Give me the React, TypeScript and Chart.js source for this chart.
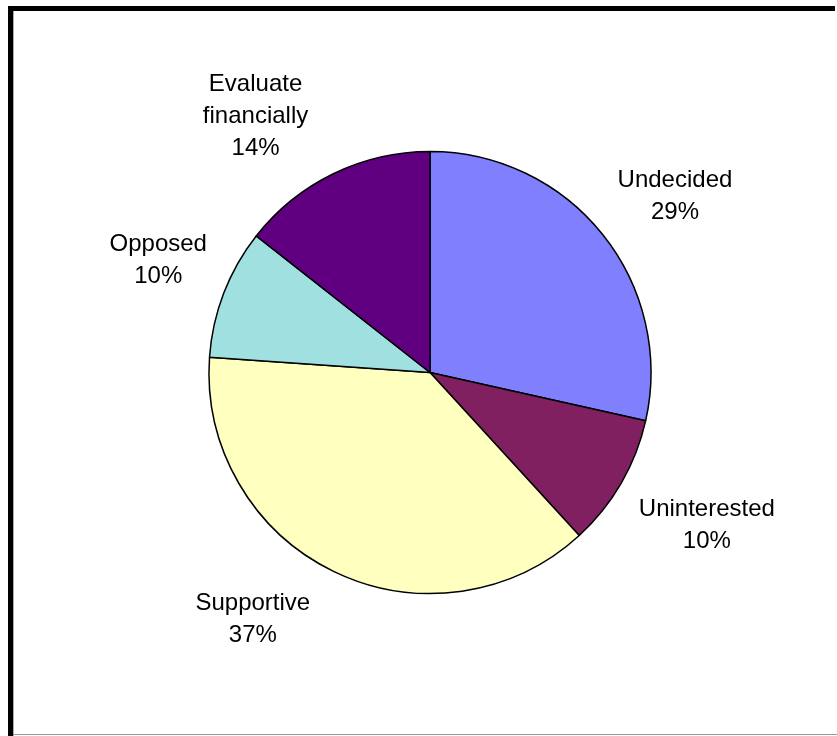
import React, { useEffect, useRef } from "react";
import { Chart, registerables } from "chart.js";

Chart.register(...registerables);

const categories = ["Undecided", "Uninterested", "Supportive", "Opposed", "Evaluate financially"];
const labelLines = [["Undecided"], ["Uninterested"], ["Supportive"], ["Opposed"], ["Evaluate", "financially"]];
const values = [28.5, 9.7, 37.9, 9.5, 14.4];
const percentLabels = ["29%", "10%", "37%", "10%", "14%"];
const colors = ["#8080FF", "#802060", "#FFFFC0", "#A0E0E0", "#600080"];
// label placement nudges (px) relative to the radial anchor
const labelNudges = [
  [8.5, 13.4],
  [14.6, 1],
  [-45.6, -26],
  [11, -3],
  [-42, 16],
];

const labelPlugin = {
  id: "outsideLabels",
  afterDatasetsDraw(chart: any) {
    const ctx = chart.ctx;
    const meta = chart.getDatasetMeta(0);
    ctx.save();
    ctx.font = '24px "Liberation Sans", Arial, sans-serif';
    ctx.fillStyle = "#000";
    ctx.textAlign = "center";
    ctx.textBaseline = "middle";
    const lineH = 32;
    meta.data.forEach((arc: any, i: number) => {
      const p = arc.getProps(["x", "y", "startAngle", "endAngle", "outerRadius"], true);
      const mid = (p.startAngle + p.endAngle) / 2;
      const d = p.outerRadius + 82;
      const cx = p.x + Math.cos(mid) * d + labelNudges[i][0];
      const cy = p.y + Math.sin(mid) * d + labelNudges[i][1];
      const lines = [...labelLines[i], percentLabels[i]];
      const top = cy - ((lines.length - 1) * lineH) / 2;
      lines.forEach((t, k) => ctx.fillText(t, cx, top + k * lineH));
    });
    ctx.restore();
  },
};

export default function App() {
  const ref = useRef<HTMLCanvasElement>(null);
  useEffect(() => {
    if (!ref.current) return;
    const chart = new Chart(ref.current, {
      type: "pie",
      data: {
        labels: categories,
        datasets: [
          {
            data: values,
            backgroundColor: colors,
            borderColor: "#000",
            borderWidth: 1.5,
            radius: 221,
          } as any,
        ],
      },
      options: {
        responsive: false,
        animation: false,
        devicePixelRatio: 1,
        layout: { padding: { left: 200, right: 177, top: 142, bottom: 133 } },
        plugins: {
          legend: { display: false },
          tooltip: { enabled: false },
        },
      },
      plugins: [labelPlugin],
    });
    return () => chart.destroy();
  }, []);

  return (
    <div style={{ position: "fixed", left: 0, top: 0, width: 837, height: 736, background: "#fff" }}>
      <canvas ref={ref} width={837} height={736} style={{ position: "absolute", left: 0, top: 0 }} />
      <div style={{ position: "absolute", left: 8, top: 6, width: 827, height: 5, background: "#000" }} />
      <div style={{ position: "absolute", left: 8, top: 6, width: 5, height: 730, background: "#000" }} />
      <div style={{ position: "absolute", left: 13, top: 11, width: 1, height: 725, background: "#aaa" }} />
      <div style={{ position: "absolute", left: 13, top: 734, width: 824, height: 1, background: "#999" }} />
    </div>
  );
}
